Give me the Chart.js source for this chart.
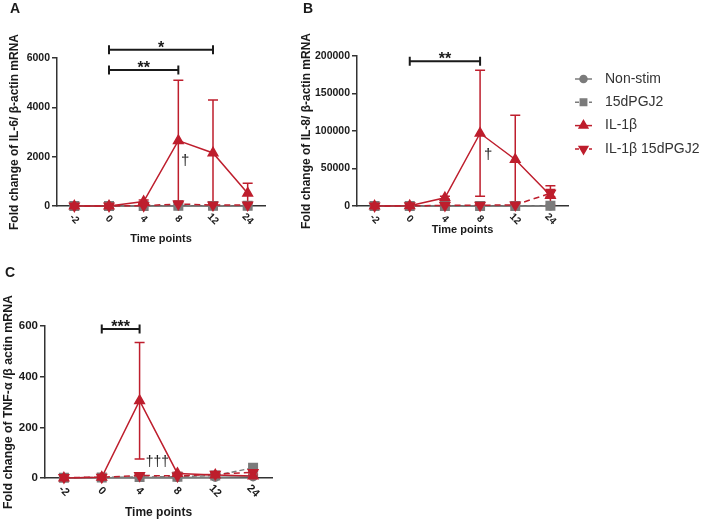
<!DOCTYPE html>
<html>
<head>
<meta charset="utf-8">
<title>Fold change time course</title>
<script src="https://cdn.jsdelivr.net/npm/chart.js@4.4.0/dist/chart.umd.min.js"></script>
<style>
  body { margin: 0; background: #fff; }
  #wrap { position: relative; width: 705px; height: 521px; }
  canvas { position: absolute; }
</style>
</head>
<body>
<div id="wrap">
  <canvas id="chartA" width="290" height="250" style="left:0;top:0;width:290px;height:250px"></canvas>
  <canvas id="chartB" width="415" height="250" style="left:290px;top:0;width:415px;height:250px"></canvas>
  <canvas id="chartC" width="330" height="271" style="left:0;top:250px;width:330px;height:271px"></canvas>
</div>
<script>
const timePoints = ['-2', '0', '4', '8', '12', '24'];

// IL-6 (panel A)
const il6NonStim = [1, 1, 2, 3, 2, 3];
const il6Pgj = [2, 2, 4, 6, 5, 6];
const il6Il1b = [0, 2, 180, 2650, 2150, 520];
const il6Il1bSd = [0, 0, 60, 2450, 2150, 400];
const il6Il1bPgj = [2, 3, 15, 80, 40, 45];
const il6Il1bPgjSd = [0, 0, 0, 60, 0, 0];

// IL-8 (panel B)
const il8NonStim = [5, 5, 10, 20, 15, 20];
const il8Pgj = [10, 10, 40, 60, 50, 300];
const il8Il1b = [0, 300, 11000, 97000, 62000, 14000];
const il8Il1bSd = [0, 0, 2000, 84000, 59000, 13000];
const il8Il1bPgj = [100, 200, 800, 1000, 1500, 17000];
const il8Il1bPgjSd = [0, 0, 0, 0, 0, 5000];

// TNF-alpha (panel C)
const tnfNonStim = [1, 1, 2, 2, 3, 5];
const tnfPgj = [1, 2, 4, 5, 10, 40];
const tnfIl1b = [0, 3, 305, 18, 12, 8];
const tnfIl1bSd = [0, 0, 230, 4, 3, 3];
const tnfIl1bPgj = [2, 3, 10, 8, 15, 22];
const tnfIl1bPgjSd = [0, 0, 3, 0, 4, 6];

// significance marks: category index from/to, y value, label
const sigA = [
  { from: 1, to: 4, y: 6330, label: '*' },
  { from: 1, to: 3, y: 5510, label: '**' }
];
const sigB = [
  { from: 1, to: 3, y: 193000, label: '**' }
];
const sigC = [
  { from: 1, to: 2, y: 588, label: '***' }
];
const daggerA = [{ x: 3.2, y: 1850, label: '†' }];
const daggerB = [{ x: 3.23, y: 68000, label: '†' }];
const daggerC = [{ x: 2.47, y: 62, label: '†††' }];

const red = '#be1e2d';
const grey = '#7b7b7b';
const ink = '#1a1a1a';
const family = "'Liberation Sans', Arial, sans-serif";
Chart.defaults.font.family = family;

function makeSets(nonStim, pgj, il1b, il1bSd, il1bPgj, il1bPgjSd) {
  return [
    { label: 'Non-stim', data: nonStim, borderColor: grey, backgroundColor: grey,
      pointStyle: 'circle', pointRadius: 4, borderWidth: 1.5, order: 4, clip: false },
    { label: '15dPGJ2', data: pgj, borderColor: grey, backgroundColor: grey, borderDash: [5, 3],
      pointStyle: 'rect', pointRadius: 6, borderWidth: 1.5, order: 3, clip: false },
    { label: 'IL-1β', data: il1b, sd: il1bSd, borderColor: red, backgroundColor: red,
      pointStyle: 'triangle', pointRadius: 5.5, borderWidth: 1.5, order: 1, clip: false },
    { label: 'IL-1β 15dPGJ2', data: il1bPgj, sd: il1bPgjSd, borderColor: red, backgroundColor: red,
      borderDash: [6, 4], pointStyle: 'triangle', pointRotation: 180, pointRadius: 5.5,
      borderWidth: 1.5, order: 2, clip: false }
  ];
}

function panelExtras(cfg) {
  return {
    id: 'extras' + cfg.letter,
    beforeDatasetsDraw(chart) {
      const ctx = chart.ctx, ys = chart.scales.y;
      chart.data.datasets.forEach((ds, di) => {
        if (!ds.sd) return;
        const meta = chart.getDatasetMeta(di);
        ctx.save();
        ctx.strokeStyle = ds.borderColor;
        ctx.lineWidth = 1.5;
        meta.data.forEach((pt, i) => {
          const sd = ds.sd[i];
          if (!sd) return;
          const top = ys.getPixelForValue(ds.data[i] + sd);
          const bot = ys.getPixelForValue(Math.max(ds.data[i] - sd, 0));
          ctx.beginPath();
          ctx.moveTo(pt.x, top); ctx.lineTo(pt.x, bot);
          ctx.moveTo(pt.x - 5, top); ctx.lineTo(pt.x + 5, top);
          if (ds.data[i] - sd > 0) { ctx.moveTo(pt.x - 5, bot); ctx.lineTo(pt.x + 5, bot); }
          ctx.stroke();
        });
        ctx.restore();
      });
    },
    afterDraw(chart) {
      const ctx = chart.ctx, xs = chart.scales.x, ys = chart.scales.y, area = chart.chartArea;
      ctx.save();
      // panel letter
      ctx.fillStyle = ink;
      ctx.font = 'bold 14px ' + family;
      ctx.textAlign = 'left';
      ctx.textBaseline = 'alphabetic';
      ctx.fillText(cfg.letter, cfg.letterPos[0], cfg.letterPos[1]);

      // rotated time labels
      ctx.font = 'bold ' + cfg.tickSize + 'px ' + family;
      ctx.textAlign = 'center';
      ctx.textBaseline = 'middle';
      timePoints.forEach((t, i) => {
        ctx.save();
        ctx.translate(xs.getPixelForTick(i), area.bottom + 13);
        ctx.rotate(Math.PI / 4);
        ctx.fillText(t, 0, 0);
        ctx.restore();
      });

      // significance brackets
      cfg.brackets.forEach(b => {
        const x1 = xs.getPixelForValue(b.from), x2 = xs.getPixelForValue(b.to);
        const y = ys.getPixelForValue(b.y);
        ctx.strokeStyle = ink;
        ctx.lineWidth = 2;
        ctx.beginPath();
        ctx.moveTo(x1, y); ctx.lineTo(x2, y);
        ctx.moveTo(x1, y - 4.5); ctx.lineTo(x1, y + 4.5);
        ctx.moveTo(x2, y - 4.5); ctx.lineTo(x2, y + 4.5);
        ctx.stroke();
        ctx.font = 'bold 16px ' + family;
        ctx.textBaseline = 'alphabetic';
        ctx.fillText(b.label, (x1 + x2) / 2, y + 3);
      });

      // daggers
      cfg.daggers.forEach(d => {
        ctx.font = cfg.daggerSize + 'px ' + family;
        ctx.textBaseline = 'middle';
        ctx.fillText(d.label, xs.getPixelForValue(d.x), ys.getPixelForValue(d.y));
      });

      // legend
      if (cfg.legend) {
        const L = cfg.legend;
        chart.data.datasets.forEach((ds, i) => {
          const y = L.y0 + i * L.step;
          ctx.strokeStyle = ds.borderColor;
          ctx.fillStyle = ds.backgroundColor;
          ctx.lineWidth = 1.5;
          ctx.setLineDash(ds.borderDash ? [4, 3] : []);
          ctx.beginPath();
          ctx.moveTo(L.x0, y); ctx.lineTo(L.x1, y);
          ctx.stroke();
          ctx.setLineDash([]);
          Chart.helpers.drawPoint(ctx, {
            pointStyle: ds.pointStyle,
            rotation: ds.pointRotation || 0,
            radius: ds.pointStyle === 'circle' ? 3.5 : (ds.pointStyle === 'rect' ? 4.5 : 5),
            borderWidth: 1
          }, (L.x0 + L.x1) / 2, y);
          ctx.fillStyle = '#333';
          ctx.font = '14px ' + family;
          ctx.textAlign = 'left';
          ctx.textBaseline = 'middle';
          ctx.fillText(ds.label, L.tx, y);
        });
      }
      ctx.restore();
    }
  };
}

function axisOptions(o) {
  return {
    x: {
      offset: true,
      ticks: { display: false },
      grid: { display: false },
      border: { color: '#333', width: 1.5 },
      title: { display: true, text: 'Time points', color: ink,
        font: { size: o.xTitleSize, weight: 'bold' }, padding: { top: 0, bottom: o.xTitlePad } },
      afterFit(scale) { scale.height = o.xHeight; }
    },
    y: {
      min: 0,
      max: o.max,
      ticks: { stepSize: o.step, color: ink, padding: 2, font: { size: o.tickSize, weight: 'bold' },
        callback: v => String(v) },
      grid: { drawOnChartArea: false, drawTicks: true, tickLength: 5, color: '#333', lineWidth: 1.5 },
      border: { color: '#333', width: 1.5 },
      title: { display: true, text: o.yTitle, color: ink,
        font: { size: o.yTitleSize, weight: 'bold' }, padding: { top: o.yTitlePad, bottom: 0 } },
      afterFit(scale) { scale.width = o.yWidth; }
    }
  };
}

function makeChart(id, sets, padding, axes, extras) {
  return new Chart(document.getElementById(id), {
    type: 'line',
    data: { labels: timePoints, datasets: sets },
    options: {
      responsive: false,
      animation: false,
      layout: { padding: padding },
      scales: axisOptions(axes),
      plugins: { legend: { display: false }, tooltip: { enabled: false } }
    },
    plugins: [panelExtras(extras)]
  });
}

makeChart('chartA',
  makeSets(il6NonStim, il6Pgj, il6Il1b, il6Il1bSd, il6Il1bPgj, il6Il1bPgjSd),
  { left: 4, top: 58, right: 25, bottom: 0 },
  { max: 6000, step: 2000, tickSize: 10.5, xTitleSize: 11, yTitleSize: 12, xHeight: 44, xTitlePad: 4,
    yWidth: 53, yTitlePad: 3, yTitle: 'Fold change of IL-6/ β-actin mRNA' },
  { letter: 'A', letterPos: [10, 13], tickSize: 10, daggerSize: 15,
    brackets: sigA, daggers: daggerA });

makeChart('chartB',
  makeSets(il8NonStim, il8Pgj, il8Il1b, il8Il1bSd, il8Il1bPgj, il8Il1bPgjSd),
  { left: 6, top: 56, right: 137, bottom: 0 },
  { max: 200000, step: 50000, tickSize: 10.5, xTitleSize: 11, yTitleSize: 12, xHeight: 44, xTitlePad: 13,
    yWidth: 61, yTitlePad: 3, yTitle: 'Fold change of IL-8/ β-actin mRNA' },
  { letter: 'B', letterPos: [13, 13], tickSize: 10, daggerSize: 15,
    brackets: sigB, daggers: daggerB,
    legend: { x0: 285, x1: 302, tx: 315, y0: 79, step: 23.3 } });

makeChart('chartC',
  makeSets(tnfNonStim, tnfPgj, tnfIl1b, tnfIl1bSd, tnfIl1bPgj, tnfIl1bPgjSd),
  { left: 0, top: 76, right: 58, bottom: 0 },
  { max: 600, step: 200, tickSize: 11.5, xTitleSize: 12, yTitleSize: 12.3, xHeight: 43, xTitlePad: 1,
    yWidth: 45, yTitlePad: 1, yTitle: 'Fold change of TNF-α /β actin mRNA' },
  { letter: 'C', letterPos: [5, 27], tickSize: 11, daggerSize: 14,
    brackets: sigC, daggers: daggerC });
</script>
</body>
</html>
